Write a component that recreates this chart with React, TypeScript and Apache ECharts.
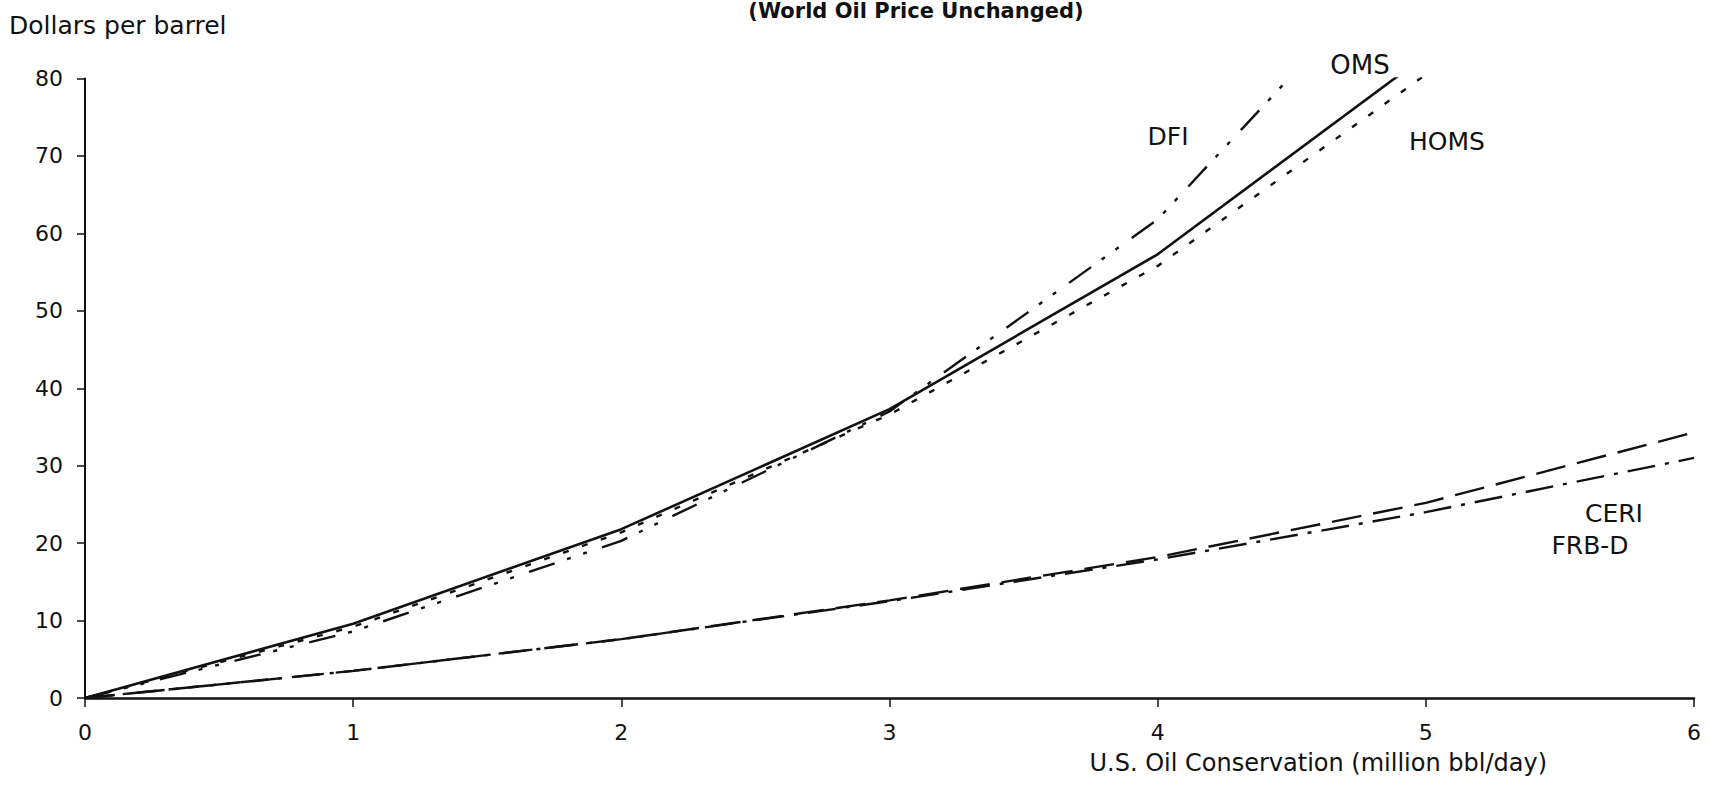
import React, { useEffect, useRef } from "react";
import * as echarts from "echarts";

// X categories (million bbl/day)
const xValues = [0, 1, 2, 3, 4, 5, 6];
const xTickLabels = ["0", "1", "2", "3", "4", "5", "6"];
const yTickLabels = ["0", "10", "20", "30", "40", "50", "60", "70", "80"];

// Series values (dollars per barrel), read at each x value
const omsValues = [0, 9.6, 21.8, 37.3, 57.3, 83];
const dfiValues = [0, 8.6, 20.3, 37.0, 61.8, 99];
const homsValues = [0, 9.2, 21.4, 36.6, 55.8, 80.5];
const ceriValues = [0, 3.5, 7.6, 12.6, 18.2, 25.2, 34.3];
const frbdValues = [0, 3.5, 7.6, 12.5, 17.9, 24.0, 31.0];

const seriesNames = ["OMS", "DFI", "HOMS", "CERI", "FRB-D"];

const FONT = "DejaVu Sans";

function pairs(vals: number[]) {
  return vals.map((v, i) => [xValues[i], v]);
}

export default function App() {
  const ref = useRef<HTMLDivElement>(null);
  useEffect(() => {
    if (!ref.current) return;
    const chart = echarts.init(ref.current, undefined, { renderer: "svg" });
    const line = (name: string, vals: number[], type: any, width = 2.4) => ({
      name,
      type: "line",
      data: pairs(vals),
      symbol: "none",
      clip: true,
      lineStyle: { color: "#111", width, type },
      z: 3,
    });
    const txt = (text: string, x: number, y: number, opts: any = {}) => ({
      type: "text",
      x,
      y,
      style: {
        text,
        fill: "#111",
        font: `${opts.weight || "normal"} ${opts.size || 24}px "${FONT}"`,
        align: opts.align || "center",
        verticalAlign: "middle",
      },
    });
    chart.setOption({
      animation: false,
      backgroundColor: "#fff",
      grid: { left: 85, right: 16, top: 78.5, bottom: 113, containLabel: false },
      xAxis: {
        type: "value",
        min: 0,
        max: 6,
        interval: 1,
        axisLine: { show: true, lineStyle: { color: "#111", width: 2.5 } },
        axisTick: { show: true, inside: false, length: 9, lineStyle: { color: "#111", width: 1.5 } },
        axisLabel: {
          margin: 23,
          color: "#111",
          fontFamily: FONT,
          fontSize: 22,
          formatter: (v: number) => xTickLabels[xValues.indexOf(v)] ?? "",
        },
        splitLine: { show: false },
      },
      yAxis: {
        type: "value",
        min: 0,
        max: 80,
        interval: 10,
        axisLine: { show: true, lineStyle: { color: "#111", width: 2 } },
        axisTick: { show: true, inside: false, length: 8, lineStyle: { color: "#111", width: 1.5 } },
        axisLabel: {
          margin: 22,
          color: "#111",
          fontFamily: FONT,
          fontSize: 22,
          formatter: (v: number) => yTickLabels[v / 10] ?? "",
        },
        splitLine: { show: false },
      },
      series: [
        line(seriesNames[0], omsValues, "solid", 2.6),
        line(seriesNames[1], dfiValues, [27, 13, 4, 13, 4, 16]),
        line(seriesNames[2], homsValues, [6, 14]),
        line(seriesNames[3], ceriValues, [30, 12]),
        line(seriesNames[4], frbdValues, [28, 10, 4, 10]),
      ],
      graphic: [
        txt("(World Oil Price Unchanged)", 916, 11, { weight: "bold", size: 21 }),
        txt("Dollars per barrel", 9, 25, { align: "left", size: 25 }),
        txt("U.S. Oil Conservation (million bbl/day)", 1547, 763, { align: "right", size: 24 }),
        txt(seriesNames[0], 1360, 65, { size: 26 }),
        txt(seriesNames[1], 1168, 136, { size: 25 }),
        txt(seriesNames[2], 1447, 141, { size: 25 }),
        txt(seriesNames[3], 1614, 513, { size: 25 }),
        txt(seriesNames[4], 1590, 545, { size: 25 }),
      ],
    });
    return () => chart.dispose();
  }, []);
  return (
    <div
      ref={ref}
      style={{ position: "absolute", left: 0, top: 0, width: 1710, height: 811 }}
    />
  );
}
